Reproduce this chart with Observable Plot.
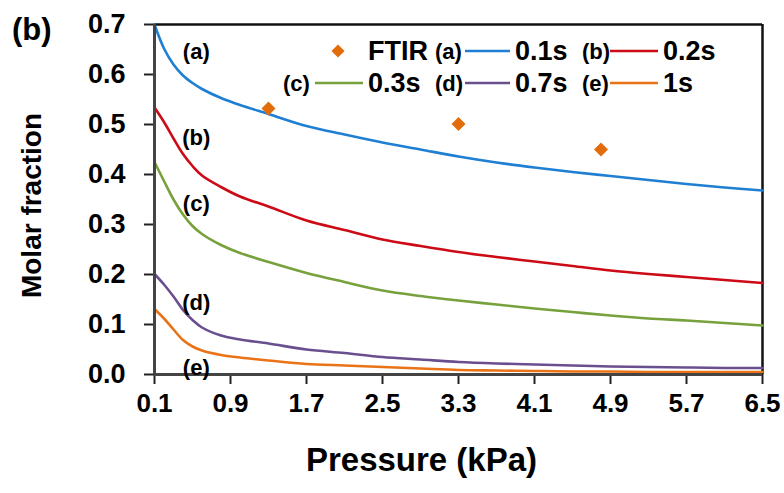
<!DOCTYPE html>
<html>
<head>
<meta charset="utf-8">
<script src="https://cdn.jsdelivr.net/npm/d3@7"></script>
<script src="https://cdn.jsdelivr.net/npm/@observablehq/plot@0.6"></script>
<style>
  html, body { margin: 0; padding: 0; background: #fff; }
  #chart svg { display: block; }
</style>
</head>
<body>
<div id="chart"></div>
<script>
// Pressure grid (kPa) shared by all simulated curves
const pressure = [0.1, 0.2, 0.3, 0.4, 0.5, 0.6, 0.8, 1.0, 1.3, 1.7, 2.1, 2.5, 2.9, 3.3, 3.7, 4.1, 4.5, 4.9, 5.3, 5.7, 6.1, 6.5];

// Molar fraction for each residence time
const frac01 = [0.700, 0.652, 0.620, 0.598, 0.583, 0.571, 0.553, 0.539, 0.521, 0.497, 0.480, 0.464, 0.450, 0.436, 0.424, 0.414, 0.405, 0.397, 0.389, 0.381, 0.374, 0.368];
const frac02 = [0.534, 0.505, 0.472, 0.441, 0.417, 0.398, 0.375, 0.356, 0.336, 0.308, 0.289, 0.270, 0.257, 0.245, 0.235, 0.226, 0.217, 0.208, 0.201, 0.195, 0.189, 0.183];
const frac03 = [0.425, 0.387, 0.350, 0.320, 0.297, 0.281, 0.259, 0.243, 0.225, 0.203, 0.185, 0.168, 0.157, 0.148, 0.140, 0.132, 0.125, 0.118, 0.112, 0.108, 0.103, 0.098];
const frac07 = [0.201, 0.180, 0.156, 0.129, 0.109, 0.094, 0.078, 0.070, 0.062, 0.050, 0.043, 0.035, 0.030, 0.025, 0.022, 0.020, 0.018, 0.016, 0.015, 0.014, 0.013, 0.013];
const frac10 = [0.131, 0.112, 0.090, 0.069, 0.056, 0.048, 0.039, 0.034, 0.028, 0.021, 0.018, 0.015, 0.012, 0.009, 0.008, 0.007, 0.006, 0.006, 0.005, 0.005, 0.005, 0.005];

const seriesNames = ["0.1s", "0.2s", "0.3s", "0.7s", "1s"];
const seriesTags = ["(a)", "(b)", "(c)", "(d)", "(e)"];
const seriesColors = ["#1f7fd2", "#cc0b16", "#77a13c", "#6a4f8f", "#ea7317"];

// FTIR measurements
const ftirPressure = [1.3, 3.3, 4.8];
const ftirFraction = [0.532, 0.501, 0.450];
const ftirColor = "#e36c0a";

// Curve tags placed next to each curve's start
const tagPressure = [0.54, 0.54, 0.54, 0.54, 0.54];
const tagFraction = [0.646, 0.474, 0.342, 0.144, 0.014];

const xTicks = [0.1, 0.9, 1.7, 2.5, 3.3, 4.1, 4.9, 5.7, 6.5];
const yTicks = [0, 0.1, 0.2, 0.3, 0.4, 0.5, 0.6, 0.7];

const allSeries = [frac01, frac02, frac03, frac07, frac10];
const rows = allSeries.flatMap((vals, i) =>
  vals.map((v, j) => ({pressure: pressure[j], fraction: v, series: seriesNames[i]}))
);
const ftir = ftirPressure.map((p, i) => ({pressure: p, fraction: ftirFraction[i]}));
const tags = seriesTags.map((t, i) => ({tag: t, pressure: tagPressure[i], fraction: tagFraction[i]}));

const font = "'Liberation Sans', Arial, Helvetica, sans-serif";

const svg = Plot.plot({
  width: 784,
  height: 493,
  marginTop: 24,
  marginRight: 22,
  marginBottom: 119,
  marginLeft: 154,
  style: {fontFamily: font, background: "#fff", color: "#000", overflow: "visible"},
  x: {domain: [0.1, 6.5]},
  y: {domain: [0, 0.7]},
  color: {domain: seriesNames, range: seriesColors},
  marks: [
    Plot.axisX({ticks: xTicks, tickFormat: d3.format(".1f"), tickSize: 10, tickPadding: 9,
      fontSize: 26, fontWeight: "bold", strokeWidth: 2, stroke: "#222", label: null}),
    Plot.axisY({ticks: yTicks, tickFormat: d3.format(".1f"), tickSize: 10, tickPadding: 19,
      fontSize: 27, fontWeight: "bold", strokeWidth: 2, stroke: "#222", label: null}),
    Plot.ruleY([0.7], {stroke: "#111", strokeWidth: 2.5}),
    Plot.ruleX([6.5], {stroke: "#111", strokeWidth: 2.5}),
    Plot.line(rows, {x: "pressure", y: "fraction", z: "series", stroke: "series",
      strokeWidth: 2.6, curve: "catmull-rom"}),
    Plot.ruleX([0.1], {stroke: "#444", strokeWidth: 3}),
    Plot.ruleY([0], {stroke: "#444", strokeWidth: 3}),
    Plot.dot(ftir, {x: "pressure", y: "fraction", symbol: "diamond2", r: 6.3, fill: ftirColor, stroke: "none"}),
    Plot.text(tags, {x: "pressure", y: "fraction", text: "tag", fontSize: 22, fontWeight: "bold", fill: "#000"}),
    Plot.text(["Pressure (kPa)"], {frameAnchor: "bottom", dx: -37, dy: 96, fontSize: 33, fontWeight: "bold", fill: "#000"}),
    Plot.text(["Molar fraction"], {frameAnchor: "left", dx: -122, dy: 6, rotate: -90, textAnchor: "middle",
      fontSize: 28, fontWeight: "bold", fill: "#000"})
  ]
});

// Panel letter and in-plot legend
const root = d3.select(svg);
root.append("text").attr("x", 12).attr("y", 29).attr("dy", "0.35em").attr("text-anchor", "start")
  .attr("font-size", 31).attr("font-weight", "bold").attr("font-family", font).text("(b)");

const legendRows = [51, 83];
const legendItems = [
  {row: 0, tag: null, lineX: null, label: "FTIR", labelX: 368, symbolX: 338, color: ftirColor},
  {row: 0, tag: "(a)", tagX: 435, lineX: [465, 510], label: "0.1s", labelX: 515, color: seriesColors[0]},
  {row: 0, tag: "(b)", tagX: 582, lineX: [610, 658], label: "0.2s", labelX: 663, color: seriesColors[1]},
  {row: 1, tag: "(c)", tagX: 283, lineX: [315, 363], label: "0.3s", labelX: 368, color: seriesColors[2]},
  {row: 1, tag: "(d)", tagX: 435, lineX: [465, 510], label: "0.7s", labelX: 515, color: seriesColors[3]},
  {row: 1, tag: "(e)", tagX: 582, lineX: [610, 658], label: "1s", labelX: 663, color: seriesColors[4]}
];
const lg = root.append("g").attr("font-family", font).attr("font-weight", "bold").attr("text-anchor", "start");
for (const it of legendItems) {
  const y = legendRows[it.row];
  if (it.symbolX) {
    lg.append("path").attr("transform", `translate(${it.symbolX},${y})`)
      .attr("d", d3.symbol(d3.symbolDiamond2, 110)()).attr("fill", it.color);
  } else {
    lg.append("line").attr("x1", it.lineX[0]).attr("x2", it.lineX[1]).attr("y1", y).attr("y2", y)
      .attr("stroke", it.color).attr("stroke-width", 2.6);
  }
  if (it.tag) {
    lg.append("text").attr("x", it.tagX).attr("y", y).attr("dy", "0.35em")
      .attr("font-size", 22).text(it.tag);
  }
  lg.append("text").attr("x", it.labelX).attr("y", y).attr("dy", "0.35em")
    .attr("font-size", 27).text(it.label);
}

document.getElementById("chart").appendChild(svg);
</script>
</body>
</html>
